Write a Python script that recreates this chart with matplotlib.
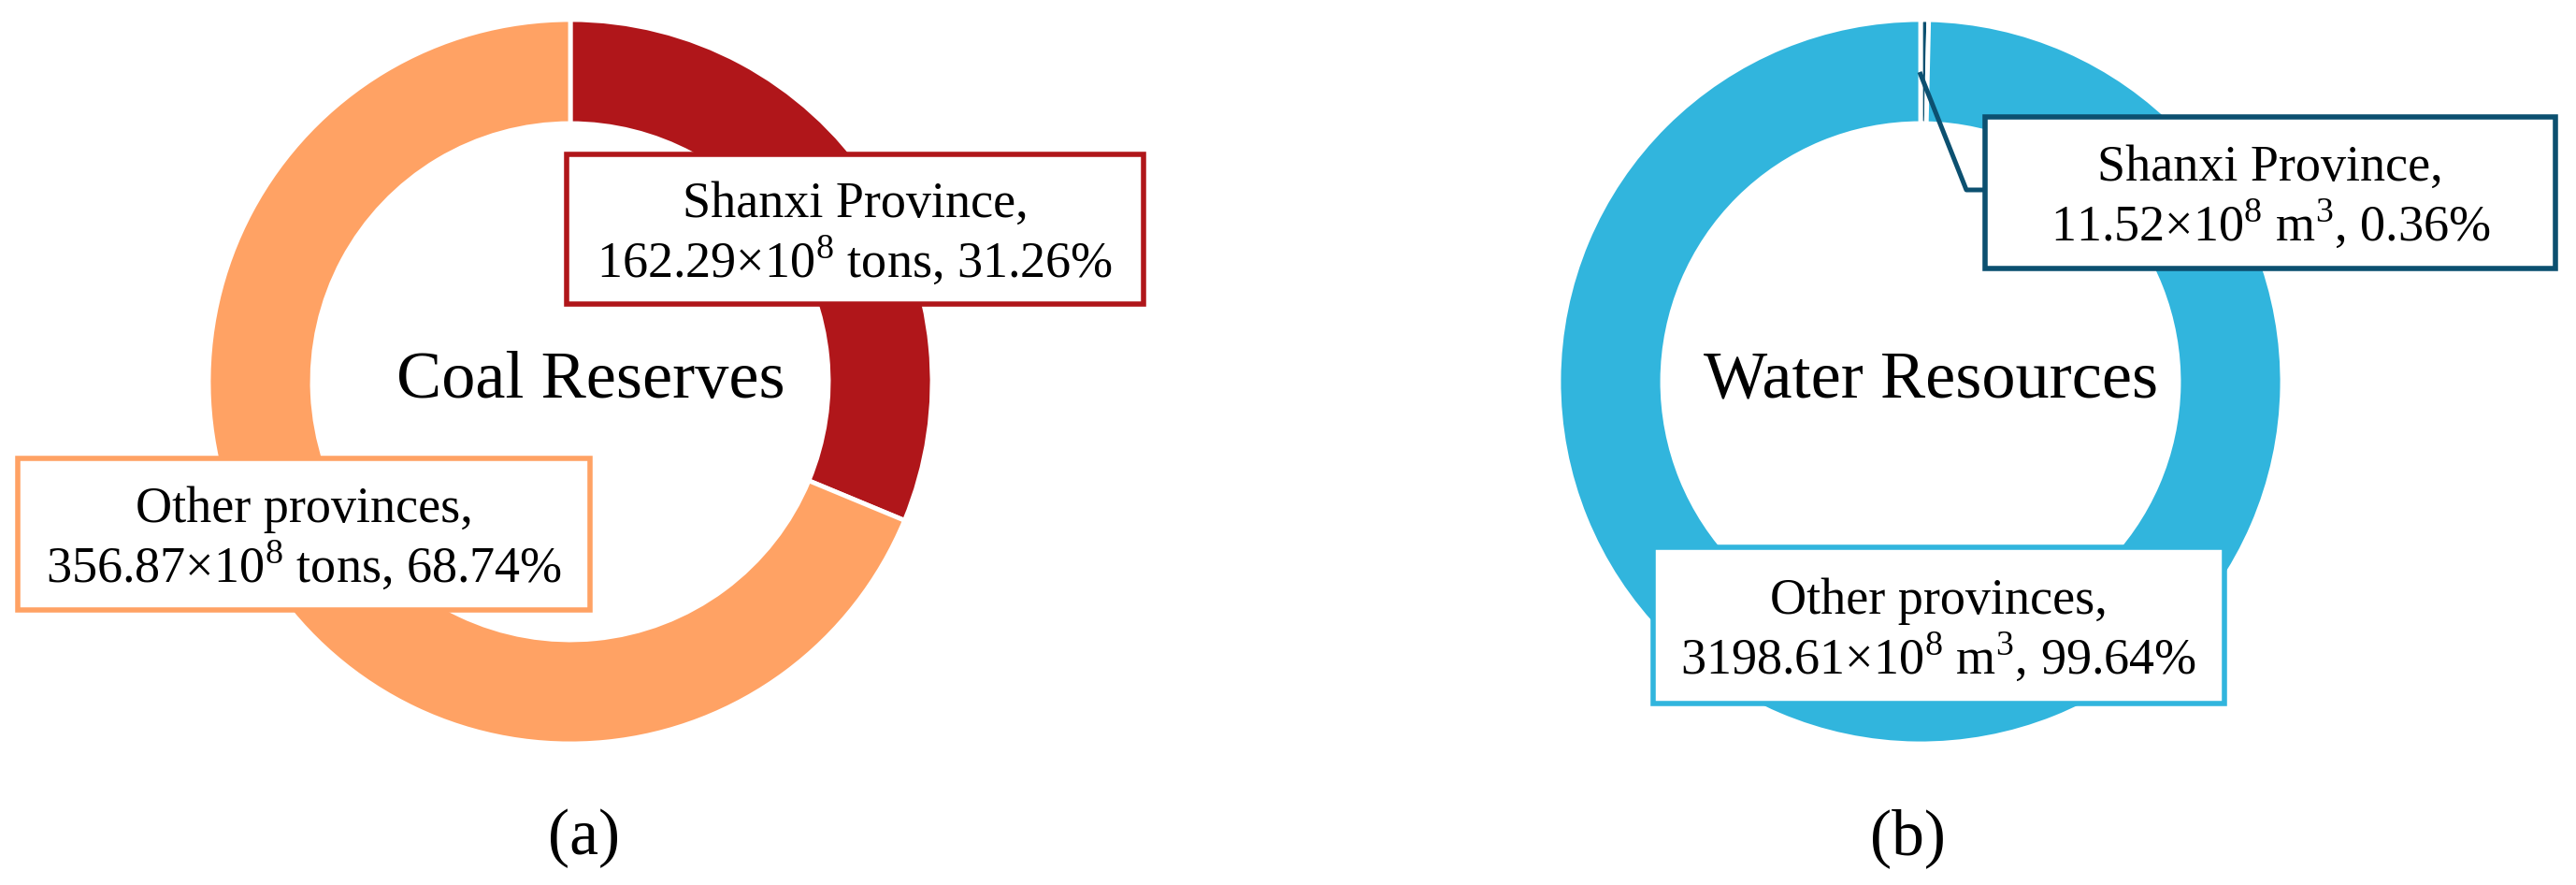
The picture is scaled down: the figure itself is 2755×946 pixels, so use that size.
import matplotlib
matplotlib.use('Agg')
import matplotlib.pyplot as plt
from matplotlib.patches import Rectangle

plt.rcParams['font.family'] = ['Liberation Serif', 'DejaVu Serif']
plt.rcParams['mathtext.fontset'] = 'custom'
plt.rcParams['mathtext.rm'] = 'Liberation Serif'

# data
coal_names = ['Shanxi Province', 'Other provinces']
coal_values = [162.29, 356.87]
coal_pct = [31.26, 68.74]
coal_unit = 'tons'
coal_colors = ['#B0161A', '#FFA264']

water_names = ['Shanxi Province', 'Other provinces']
water_values = [11.52, 3198.61]
water_pct = [0.36, 99.64]
water_unit = 'm$^{3}$'
water_colors = ['#0C5070', '#31B5DD']

W, H = 2755, 946
fig = plt.figure(figsize=(W / 100, H / 100), dpi=100)
ax = fig.add_axes([0, 0, 1, 1])


def fy(y):
    # image row -> data y
    return H - y


def donut(cx, cy, values, colors, title, tx, tag, gx, edge):
    ax.pie(values, colors=colors, startangle=90, counterclock=False,
           radius=387, center=(cx, fy(cy)),
           wedgeprops=dict(width=111, edgecolor='white', linewidth=edge))
    ax.text(tx, fy(425), title, ha='center', va='baseline', fontsize=52)
    ax.text(gx, fy(913), tag, ha='center', va='baseline', fontsize=50)


def label(x0, y0, x1, y1, name, val, unit, pct, color):
    ax.add_patch(Rectangle((x0, fy(y1)), x1 - x0, y1 - y0, facecolor='white',
                           edgecolor=color, linewidth=4, zorder=5))
    xc = (x0 + x1) / 2
    yc = (y0 + y1) / 2
    ax.text(xc, fy(yc - 13), f'{name},', ha='center', va='baseline',
            fontsize=39, zorder=6)
    ax.text(xc, fy(yc + 51), f'{val:.2f}×10$^{{8}}$ {unit}, {pct:.2f}%',
            ha='center', va='baseline', fontsize=39, zorder=6)


# (a) coal
donut(610, 408, coal_values, coal_colors, 'Coal Reserves', 632, '(a)', 625, 3.5)
label(606, 165, 1223, 325, coal_names[0], coal_values[0], coal_unit, coal_pct[0], coal_colors[0])
label(19, 490, 631, 652, coal_names[1], coal_values[1], coal_unit, coal_pct[1], coal_colors[1])

# (b) water
donut(2054, 408, water_values, water_colors, 'Water Resources', 2065, '(b)', 2040, 3.5)
ax.plot([2053, 2103, 2123], [fy(77), fy(203), fy(203)], color=water_colors[0],
        linewidth=3.6, zorder=4, solid_capstyle='butt')
label(2123, 125, 2733, 287, water_names[0], water_values[0], water_unit, water_pct[0], water_colors[0])
label(1768, 585, 2379, 752, water_names[1], water_values[1], water_unit, water_pct[1], water_colors[1])

ax.set_xlim(0, W)
ax.set_ylim(0, H)
ax.set_aspect('auto')
ax.axis('off')

fig.savefig('out.png', dpi=100, facecolor='white')
